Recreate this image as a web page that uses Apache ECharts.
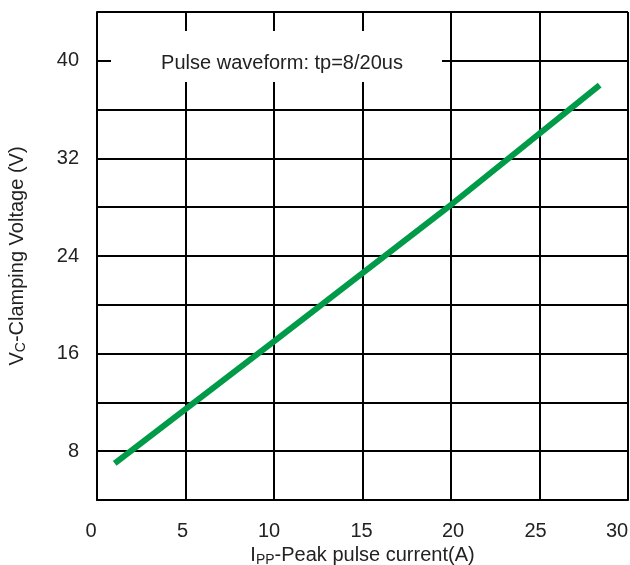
<!DOCTYPE html>
<html>
<head>
<meta charset="utf-8">
<script src="https://cdn.jsdelivr.net/npm/echarts@6/dist/echarts.min.js"></script>
<style>
  html, body { margin: 0; padding: 0; background: #fff; overflow: hidden; width: 100%; height: 100%; }
  #chart { width: 630px; height: 565px; }
</style>
</head>
<body>
<div id="chart"></div>
<script>
// Data
const currentA = [1, 10, 20, 28.4];        // I_PP (A)
const clampV   = [7.0, 17.0, 28.2, 38.0];  // V_C (V)
const xTickLabels = [0, 5, 10, 15, 20, 25, 30];
const yTickLabels = [8, 16, 24, 32, 40];
const annotation = 'Pulse waveform: tp=8/20us';

const FONT = '"Liberation Sans", Arial, sans-serif';
const TXT = '#222';
const chart = echarts.init(document.getElementById('chart'), null, { renderer: 'canvas' });
const seriesData = currentA.map((x, i) => [x, clampV[i]]);

// horizontal nudges of x tick labels (style only), as in the reference
const xLabelNudge = { 0: -6, 5: -3, 10: -5, 15: -1, 20: 2, 25: -4, 30: -11 };
const xRich = {};
xTickLabels.forEach(v => {
  const d = xLabelNudge[v] || 0;
  xRich['t' + v] = {
    fontFamily: FONT, fontSize: 20, color: TXT,
    padding: d < 0 ? [0, -2 * d, 0, 0] : [0, 0, 0, 2 * d]
  };
});

chart.setOption({
  backgroundColor: '#ffffff',
  animation: false,
  grid: { left: 97, right: 2, top: 12, bottom: 65, containLabel: false, outerBoundsMode: 'none' },
  xAxis: {
    type: 'value',
    min: 0, max: 30, interval: 5,
    axisLine: { show: true, lineStyle: { color: '#000', width: 2 } },
    axisTick: { show: false },
    splitLine: { show: true, lineStyle: { color: '#000', width: 2 } },
    axisLabel: {
      margin: 21,
      color: TXT,
      fontFamily: FONT,
      fontSize: 20,
      formatter: v => xTickLabels.includes(v) ? '{t' + v + '|' + v + '}' : '',
      rich: xRich
    },
    name: '{n|I}{s|PP}{n|-Peak pulse current(A)}',
    nameLocation: 'middle',
    nameGap: 42,
    nameTextStyle: {
      rich: {
        n: { fontFamily: FONT, fontSize: 20, color: TXT },
        s: { fontFamily: FONT, fontSize: 14, color: TXT, verticalAlign: 'bottom', padding: [0, 0, -1, 0] }
      }
    }
  },
  yAxis: {
    type: 'value',
    min: 4, max: 44, interval: 4,
    axisLine: { show: true, lineStyle: { color: '#000', width: 2 } },
    axisTick: { show: false },
    splitLine: { show: true, lineStyle: { color: '#000', width: 2 } },
    axisLabel: {
      margin: 18,
      color: TXT,
      fontFamily: FONT,
      fontSize: 20,
      formatter: v => yTickLabels.includes(v) ? String(v) : ''
    },
    name: '{n|V}{s|C}{n|-Clamping Voltage (V)}',
    nameLocation: 'middle',
    nameGap: 70,
    nameRotate: 90,
    nameTextStyle: {
      rich: {
        n: { fontFamily: FONT, fontSize: 20, color: TXT },
        s: { fontFamily: FONT, fontSize: 14, color: TXT, verticalAlign: 'bottom', padding: [0, 0, -1, 0] }
      }
    }
  },
  series: [{
    type: 'line',
    data: seriesData,
    symbol: 'none',
    smooth: false,
    lineStyle: { color: '#009b48', width: 6, cap: 'butt' },
    z: 3
  }],
  graphic: [
    {
      type: 'rect',
      z: 100,
      shape: { x: 111, y: 31, width: 331, height: 51 },
      style: { fill: '#ffffff' }
    },
    {
      type: 'text',
      z: 101,
      x: 282, y: 63,
      style: {
        text: annotation,
        fill: TXT,
        font: '20px ' + FONT,
        align: 'center',
        verticalAlign: 'middle'
      }
    }
  ]
});
</script>
</body>
</html>
